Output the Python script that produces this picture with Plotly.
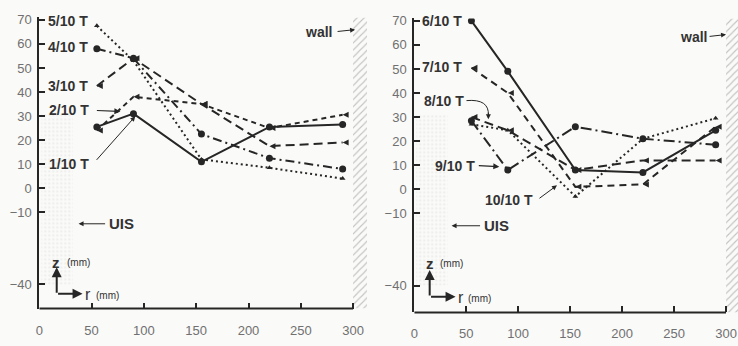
import plotly.graph_objects as go

W, H = 738, 346

# ---------------- data ----------------
r_pos = [55, 90, 155, 220, 290]

left_names = ["1/10 T", "2/10 T", "3/10 T", "4/10 T", "5/10 T"]
z_1 = [25.5, 31, 11, 25.5, 26.5]
z_2 = [24, 38, 35, 25, 30.5]
z_3 = [42.5, 54, 35, 17.5, 19]
z_4 = [58, 54, 22.5, 12.5, 8]
z_5 = [67.5, 53, 12, 8.5, 4]

right_names = ["6/10 T", "7/10 T", "8/10 T", "9/10 T", "10/10 T"]
z_6 = [70, 49, 8, 7, 24.5]
z_7 = [50.5, 40, 1, 2, 26]
z_8 = [30, 24.5, 8, 12, 12]
z_9 = [28.5, 8, 26, 21, 18.5]
z_10 = [27, 24.5, -3, 21, 29.5]

x_ticks = [0, 50, 100, 150, 200, 250, 300]
y_ticks = [70, 60, 50, 40, 30, 20, 10, 0, -10, -40]

wall_r = [300, 314]
uis_r = [2, 32]
uis_z = [-40, 31]

# ---------------- styling ----------------
INK = "#262626"
FONT = "Liberation Sans, Arial, sans-serif"

def px2paper(x, y):
    return x / W, 1 - y / H

fig = go.Figure()

left_series = [z_1, z_2, z_3, z_4, z_5]
right_series = [z_6, z_7, z_8, z_9, z_10]
styles = [
    ("solid", "circle", 7),
    ("5px,4px", "arrow-left", 6),
    ("9px,5px", "arrow-left", 6),
    ("9px,4px,2px,4px", "circle", 7),
    ("2px,3px", "triangle-up", 5),
]
styles_r = [
    ("solid", "circle", 7),
    ("7px,5px", "arrow-left", 6),
    ("9px,5px", "arrow-left", 6),
    ("11px,4px,2px,4px", "circle", 7),
    ("2px,3px", "triangle-up", 5),
]

# decoration: wall hatch and UIS band
for xa, ya, y0, y1 in [("x", "y", -50, 71), ("x2", "y2", -51.2, 71)]:
    fig.add_trace(go.Bar(
        x=[(wall_r[0] + wall_r[1]) / 2], y=[y1 - y0], base=[y0],
        width=[wall_r[1] - wall_r[0]], xaxis=xa, yaxis=ya,
        marker=dict(color="rgba(0,0,0,0)", line_width=0,
                    pattern=dict(shape="/", fgcolor="#8c8c8c", size=5, solidity=0.22)),
        hoverinfo="skip"))
    fig.add_trace(go.Bar(
        x=[(uis_r[0] + uis_r[1]) / 2], y=[uis_z[1] - uis_z[0]], base=[uis_z[0]],
        width=[uis_r[1] - uis_r[0]], xaxis=xa, yaxis=ya,
        marker=dict(color="rgba(0,0,0,0)", line_width=0,
                    pattern=dict(shape=".", fgcolor="#e2e2e2", size=4, solidity=0.3)),
        hoverinfo="skip"))

for zs, nm, (dash, sym, sz) in zip(left_series, left_names, styles):
    fig.add_trace(go.Scatter(x=r_pos, y=zs, name=nm, mode="lines+markers",
                             line=dict(color=INK, width=2, dash=dash),
                             marker=dict(symbol=sym, size=sz, color=INK),
                             xaxis="x", yaxis="y"))
for zs, nm, (dash, sym, sz) in zip(right_series, right_names, styles_r):
    fig.add_trace(go.Scatter(x=r_pos, y=zs, name=nm, mode="lines+markers",
                             line=dict(color=INK, width=2, dash=dash),
                             marker=dict(symbol=sym, size=sz, color=INK),
                             xaxis="x2", yaxis="y2"))

xcommon = dict(tickvals=x_ticks, ticks="inside", ticklen=6, tickwidth=2, tickcolor=INK,
               showgrid=False, zeroline=False, showline=False,
               tickfont=dict(family=FONT, size=13, color="#707070"),
               ticklabelstandoff=12)
ycommon = dict(tickvals=y_ticks, ticks="inside", ticklen=6, tickwidth=2, tickcolor=INK,
               showgrid=False, zeroline=False, showline=True, linewidth=2, linecolor=INK,
               tickfont=dict(family=FONT, size=13, color="#707070"),
               ticklabelstandoff=3)

fig.update_layout(
    width=W, height=H, margin=dict(l=0, r=0, t=0, b=0),
    paper_bgcolor="#fafaf8", plot_bgcolor="#fafaf8",
    showlegend=False, barmode="overlay",
    xaxis=dict(domain=[35.5 / W, 365 / W], range=[0, 313.3], anchor="y", **xcommon),
    xaxis2=dict(domain=[412.5 / W, 1.0], range=[0, 311.5], anchor="y2", **xcommon),
    yaxis=dict(domain=[1 - 308 / H, 1 - 12.6 / H], range=[-50, 71], anchor="x", **ycommon),
    yaxis2=dict(domain=[1 - 312 / H, 1 - 13.6 / H], range=[-51.2, 71], anchor="x2", **ycommon),
)

# x axis lines (end at r = 300)
for xr, yr in [("x", "y domain"), ("x2", "y2 domain")]:
    fig.add_shape(type="line", xref=xr, yref=yr, x0=0, x1=300, y0=0, y1=0,
                  line=dict(color=INK, width=2))

ann = []

def label(px, py, text, size=14, anchor="left", bold=True):
    x, y = px2paper(px, py)
    ann.append(dict(x=x, y=y, xref="paper", yref="paper",
                    text=("<b>%s</b>" % text) if bold else text, showarrow=False,
                    xanchor=anchor, yanchor="middle",
                    font=dict(family=FONT, size=size, color="#333333")))

def arrow(x0, y0, x1, y1, head=2, width=1.2):
    x, y = px2paper(x1, y1)
    ann.append(dict(x=x, y=y, xref="paper", yref="paper", text="", showarrow=True,
                    ax=x0 - x1, ay=y0 - y1, arrowhead=head, arrowsize=1,
                    arrowwidth=width, arrowcolor=INK))

# left panel labels
label(42, 16, "5/10 T")
label(42, 43, "4/10 T")
label(42, 82, "3/10 T")
label(43, 107, "2/10 T")
arrow(92, 107, 117, 108)
label(43, 161, "1/10 T")
arrow(92, 158, 132, 113, width=1)
label(301, 27, "wall", 14)
arrow(334, 27, 353, 25, width=1)
label(104, 222, "UIS", 15)
arrow(103, 222, 75, 222, width=1)
# axis indicator left
arrow(53, 293, 53, 266, head=2, width=2)
arrow(53, 293, 79, 293, head=2, width=2)
label(52, 261, "z", 15, "center")
label(61, 261, "(mm)", 10, bold=False)
label(84, 294, "r", 16, "center", bold=False)
label(90, 295, "(mm)", 10, bold=False)

# right panel labels
label(418, 16, "6/10 T")
label(418, 63, "7/10 T")
label(420, 97, "8/10 T")
label(431, 163, "9/10 T")
arrow(476, 163, 498, 164)
label(482, 198, "10/10 T")
arrow(537, 197, 556, 183, width=1)
label(678, 32, "wall", 14)
arrow(708, 32, 726, 30, width=1)
label(481, 224, "UIS", 15)
arrow(480, 224, 450, 224, width=1)
# curved pointer for 8/10 T
fig.add_shape(type="path", xref="paper", yref="paper",
              path="M %f,%f Q %f,%f %f,%f" % (465 / W, 1 - 97 / H, 488 / W, 1 - 95 / H,
                                              487 / W, 1 - 112 / H),
              line=dict(color=INK, width=1))
arrow(487, 108, 487, 116, width=1)
# axis indicator right
arrow(428, 296, 428, 269, head=2, width=2)
arrow(428, 296, 454, 296, head=2, width=2)
label(428, 262, "z", 15, "center")
label(436, 262, "(mm)", 10, bold=False)
label(459, 297, "r", 16, "center", bold=False)
label(465, 298, "(mm)", 10, bold=False)

fig.update_layout(annotations=ann)
fig.write_html("out.html", post_script="document.body.style.margin='0px';",
               config={"displayModeBar": False})
